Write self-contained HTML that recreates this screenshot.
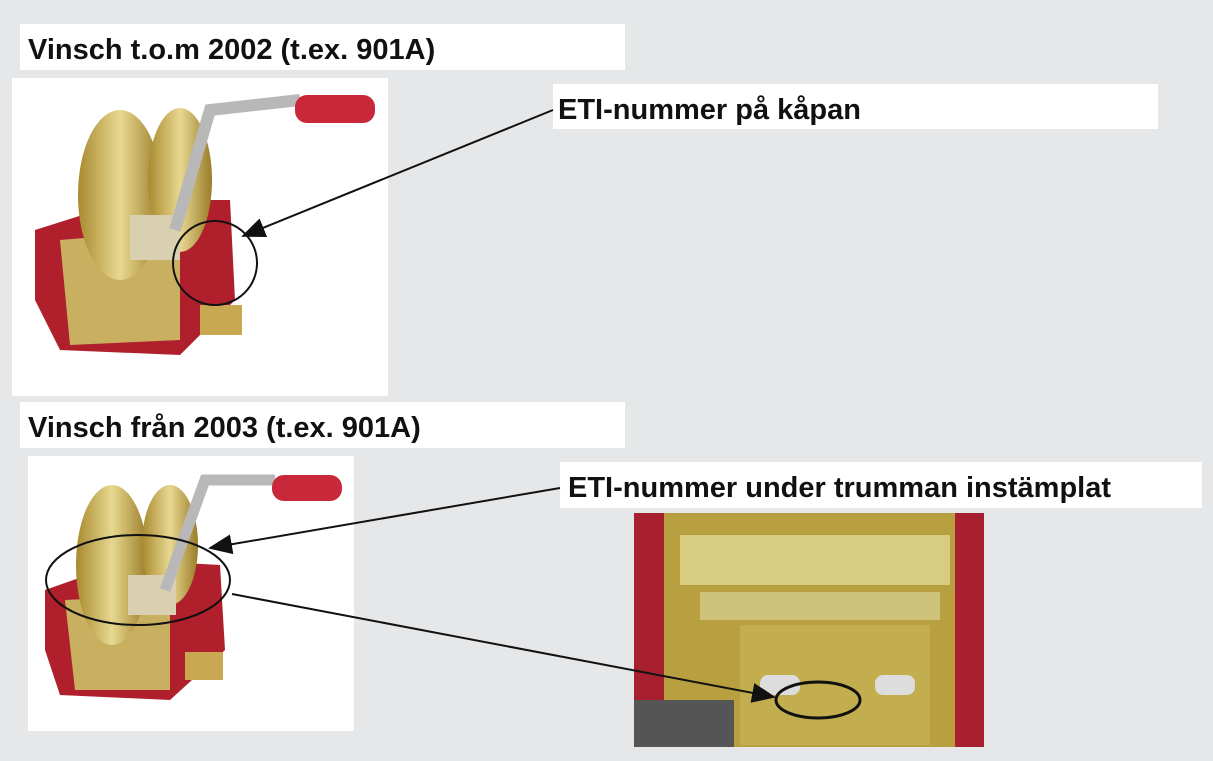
<!DOCTYPE html>
<html><head><meta charset="utf-8"><style>
body{margin:0;width:1213px;height:761px;background:#e6e7e9;overflow:hidden;position:relative;font-family:"Liberation Sans",sans-serif}
.b{position:absolute;background:#fff}
.t{position:absolute;font-weight:bold;font-size:29px;color:#111;white-space:nowrap}
svg{position:absolute;left:0;top:0}
</style></head><body>
<div class="b" style="left:20px;top:24px;width:605px;height:46px"></div>
<div class="t" style="left:28px;top:34px">Vinsch t.o.m 2002 (t.ex. 901A)</div>
<div class="b" style="left:12px;top:78px;width:376px;height:318px"></div>
<div class="b" style="left:553px;top:84px;width:605px;height:45px"></div>
<div class="t" style="left:558px;top:94px">ETI-nummer på kåpan</div>
<div class="b" style="left:20px;top:402px;width:605px;height:46px"></div>
<div class="t" style="left:28px;top:412px">Vinsch från 2003 (t.ex. 901A)</div>
<div class="b" style="left:28px;top:456px;width:326px;height:275px"></div>
<div class="b" style="left:560px;top:462px;width:642px;height:46px"></div>
<div class="t" style="left:568px;top:472px">ETI-nummer under trumman instämplat</div>
<svg width="1213" height="761">
<defs><marker id="a" markerWidth="12" markerHeight="10" refX="11" refY="5" orient="auto"><path d="M0,0 L12,5 L0,10 z" fill="#111"/></marker>
<linearGradient id="g" x1="0" x2="1"><stop offset="0" stop-color="#a88a30"/><stop offset=".5" stop-color="#e8d890"/><stop offset="1" stop-color="#9a7c28"/></linearGradient></defs>
<g>
<path d="M35,230 L130,200 L230,200 L235,300 L180,355 L60,350 L35,300 z" fill="#b0202c"/>
<path d="M60,240 L180,230 L180,340 L70,345 z" fill="#c8b060"/>
<ellipse cx="120" cy="195" rx="42" ry="85" fill="url(#g)"/>
<ellipse cx="180" cy="180" rx="32" ry="72" fill="url(#g)"/>
<rect x="130" y="215" width="50" height="45" fill="#d8d0b0"/>
<path d="M175,230 L210,110 L300,100" stroke="#b8b8b8" stroke-width="12" fill="none"/>
<rect x="295" y="95" width="80" height="28" rx="12" fill="#c8283a"/>
<rect x="200" y="305" width="42" height="30" fill="#c8a850"/>
</g>
<g>
<path d="M45,590 L130,560 L220,565 L225,650 L170,700 L60,695 L45,650 z" fill="#b0202c"/>
<path d="M65,600 L170,595 L170,690 L75,690 z" fill="#c8b060"/>
<ellipse cx="112" cy="565" rx="36" ry="80" fill="url(#g)"/>
<ellipse cx="170" cy="545" rx="28" ry="60" fill="url(#g)"/>
<rect x="128" y="575" width="48" height="40" fill="#d8d0b0"/>
<path d="M165,590 L205,480 L275,480" stroke="#b8b8b8" stroke-width="11" fill="none"/>
<rect x="272" y="475" width="70" height="26" rx="12" fill="#c8283a"/>
<rect x="185" y="652" width="38" height="28" fill="#c8a850"/>
</g>
<rect x="634" y="513" width="350" height="234" fill="#b8a040"/>
<rect x="634" y="513" width="30" height="234" fill="#a82030"/>
<rect x="955" y="513" width="29" height="234" fill="#a82030"/>
<rect x="680" y="535" width="270" height="50" fill="#d8cc80"/>
<rect x="700" y="592" width="240" height="28" fill="#cfc27a"/>
<rect x="740" y="625" width="190" height="120" fill="#c2ae4e"/>
<rect x="760" y="675" width="40" height="20" rx="8" fill="#ddd"/>
<rect x="875" y="675" width="40" height="20" rx="8" fill="#ddd"/>
<rect x="634" y="700" width="100" height="47" fill="#555"/>
<line x1="553" y1="110" x2="243" y2="236" stroke="#111" stroke-width="2" marker-end="url(#a)"/>
<ellipse cx="215" cy="263" rx="42" ry="42" fill="none" stroke="#111" stroke-width="2"/>
<line x1="560" y1="488" x2="210" y2="548" stroke="#111" stroke-width="2" marker-end="url(#a)"/>
<ellipse cx="138" cy="580" rx="92" ry="45" fill="none" stroke="#111" stroke-width="2"/>
<line x1="232" y1="594" x2="774" y2="697" stroke="#111" stroke-width="2" marker-end="url(#a)"/>
<ellipse cx="818" cy="700" rx="42" ry="18" fill="none" stroke="#111" stroke-width="3"/>
</svg>
</body></html>
